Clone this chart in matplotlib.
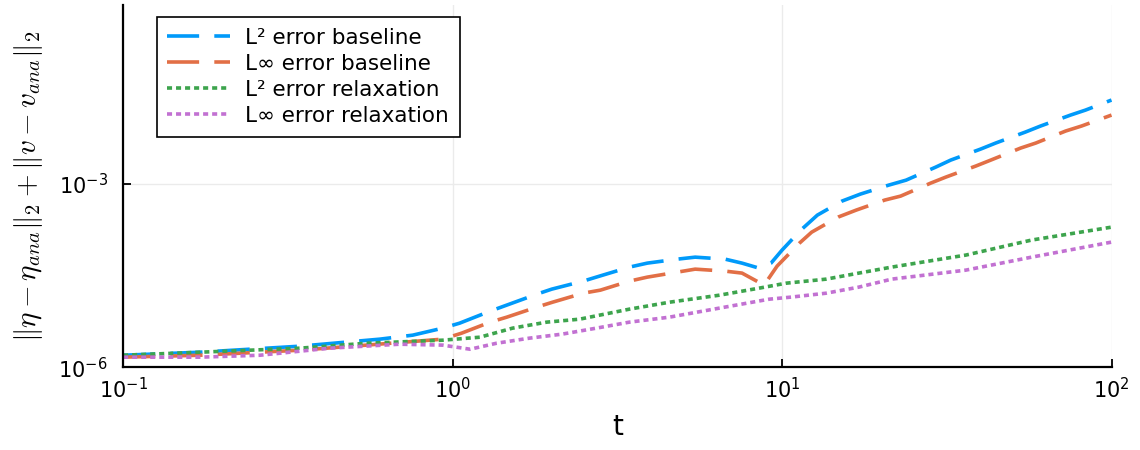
import matplotlib
matplotlib.use("Agg")
import matplotlib.pyplot as plt
from matplotlib.ticker import FixedLocator, NullLocator

plt.rcParams['mathtext.fontset'] = 'cm'

# values
t_l2_base = [0.1, 0.171, 0.344, 0.601, 0.757, 0.933, 1.05, 1.30, 1.46, 1.80, 2.0, 2.49, 2.79,
             3.44, 3.90, 4.81, 5.45, 6.72, 7.56, 8.51, 9.26, 10, 11.4, 12.8, 15.2, 17.3, 21.1,
             23.8, 29.3, 32.5, 40.1, 44.5, 54.8, 60.9, 75.1, 83.4, 100]
e_l2_base = [1.57e-6, 1.76e-6, 2.21e-6, 2.88e-6, 3.35e-6, 4.36e-6, 5.26e-6, 8.28e-6, 1.04e-5,
             1.57e-5, 1.90e-5, 2.57e-5, 3.10e-5, 4.36e-5, 5.07e-5, 5.89e-5, 6.35e-5, 5.89e-5,
             5.07e-5, 4.20e-5, 5.07e-5, 8.28e-5, 1.76e-4, 3.10e-4, 5.26e-4, 6.86e-4, 9.63e-4,
             1.16e-3, 1.90e-3, 2.47e-3, 3.75e-3, 4.70e-3, 7.12e-3, 8.93e-3, 1.35e-2, 1.63e-2,
             2.38e-2]

t_linf_base = [0.1, 0.171, 0.344, 0.548, 0.933, 1.065, 1.30, 1.46, 1.80, 2.01, 2.49, 2.81, 3.44,
               3.90, 4.81, 5.45, 6.72, 7.56, 8.82, 9.66, 11.3, 12.3, 14.8, 16.8, 20.5, 22.9,
               28.3, 31.4, 38.7, 43.0, 53.0, 58.9, 72.6, 81.1, 100]
e_linf_base = [1.46e-6, 1.57e-6, 1.90e-6, 2.30e-6, 2.88e-6, 3.61e-6, 5.47e-6, 6.60e-6, 9.63e-6,
               1.16e-5, 1.63e-5, 1.83e-5, 2.57e-5, 2.99e-5, 3.61e-5, 4.04e-5, 3.75e-5, 3.48e-5,
               2.21e-5, 4.53e-5, 1.08e-4, 1.63e-4, 2.88e-4, 3.75e-4, 5.47e-4, 6.35e-4, 1.04e-3,
               1.30e-3, 1.97e-3, 2.47e-3, 3.89e-3, 4.70e-3, 7.40e-3, 8.93e-3, 1.35e-2]

t_l2_relax = [0.1, 0.171, 0.344, 0.548, 0.933, 1.21, 1.52, 1.93, 2.43, 3.44, 4.55, 6.44, 8.51,
              10.3, 13.6, 17.1, 21.5, 36.1, 57.2, 100]
e_l2_relax = [1.57e-6, 1.76e-6, 2.05e-6, 2.47e-6, 2.77e-6, 3.10e-6, 4.36e-6, 5.47e-6, 6.12e-6,
              8.93e-6, 1.16e-5, 1.51e-5, 1.97e-5, 2.38e-5, 2.77e-5, 3.48e-5, 4.36e-5, 6.86e-5,
              1.21e-4, 1.97e-4]

t_linf_relax = [0.1, 0.171, 0.260, 0.424, 0.690, 0.933, 1.13, 1.36, 1.71, 2.15, 2.73, 3.44, 4.55,
                6.44, 9.13, 10.7, 13.6, 17.1, 21.5, 36.1, 57.2, 100]
e_linf_relax = [1.46e-6, 1.46e-6, 1.57e-6, 2.05e-6, 2.38e-6, 2.30e-6, 1.97e-6, 2.47e-6, 2.99e-6,
                3.48e-6, 4.36e-6, 5.47e-6, 6.60e-6, 9.27e-6, 1.30e-5, 1.41e-5, 1.63e-5, 2.05e-5,
                2.77e-5, 3.89e-5, 6.35e-5, 1.12e-4]

labels = ["L² error baseline", "L∞ error baseline", "L² error relaxation", "L∞ error relaxation"]

fig = plt.figure(figsize=(11.4, 4.5), dpi=100)
ax = fig.add_axes([0.108, 0.184, 0.867, 0.805])

lw = 2.6
ax.plot(t_l2_base, e_l2_base, color="#009AFA", lw=lw, dashes=(8.9, 4.2), label=labels[0])
ax.plot(t_linf_base, e_linf_base, color="#E26F46", lw=lw, dashes=(8.9, 4.2), label=labels[1])
ax.plot(t_l2_relax, e_l2_relax, color="#3DA44D", lw=lw, dashes=(1.4, 1.1), label=labels[2])
ax.plot(t_linf_relax, e_linf_relax, color="#C271D2", lw=lw, dashes=(1.4, 1.1), label=labels[3])

ax.set_xscale("log")
ax.set_yscale("log")
ax.set_xlim(0.1, 100)
ax.set_ylim(1e-6, 0.86)
ax.xaxis.set_major_locator(FixedLocator([0.1, 1, 10, 100]))
ax.yaxis.set_major_locator(FixedLocator([1e-6, 1e-3]))
ax.xaxis.set_minor_locator(NullLocator())
ax.yaxis.set_minor_locator(NullLocator())

ax.grid(True, color="#ebebeb", lw=1)
ax.set_axisbelow(True)
for s in ["top", "right"]:
    ax.spines[s].set_visible(False)
for s in ["left", "bottom"]:
    ax.spines[s].set_linewidth(1.6)
ax.tick_params(direction="in", length=6, width=1.3, labelsize=15)
ax.tick_params(axis="x", pad=7)
ax.tick_params(axis="y", pad=11)

ax.set_xlabel("t", fontsize=20, labelpad=8)
ax.set_ylabel(r"$\Vert\eta - \eta_{ana}\Vert_2 + \Vert v - v_{ana}\Vert_2$", fontsize=21)
ax.yaxis.set_label_coords(-0.079, 0.5)

leg = ax.legend(loc="upper left", bbox_to_anchor=(0.034, 0.967), borderaxespad=0,
                fontsize=15.5, handlelength=2.9, handletextpad=0.7, labelspacing=0.28,
                borderpad=0.5, fancybox=False, framealpha=1, edgecolor="black")
leg.get_frame().set_linewidth(1.2)

fig.savefig("out.png", dpi=100)
